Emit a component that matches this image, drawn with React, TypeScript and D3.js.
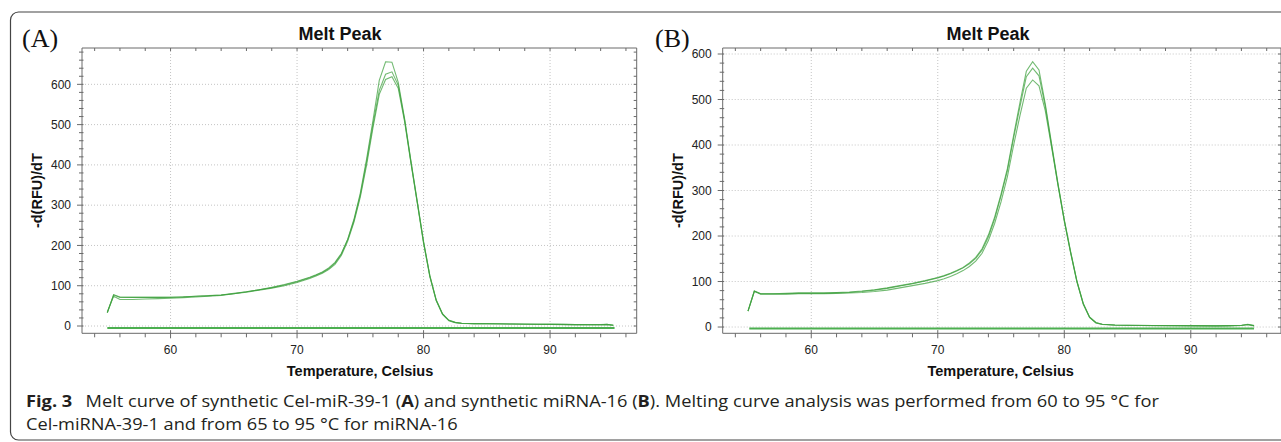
import React, { useLayoutEffect, useRef, useState } from 'react';
import * as d3 from 'd3';

// ---------- data ----------
const temps = [55, 55.5, 56, 57, 58, 59, 60, 61, 62, 63, 64, 65, 66, 67, 68, 69, 70,
  70.5, 71, 71.5, 72, 72.5, 73, 73.5, 74, 74.5, 75, 75.5, 76, 76.5, 77, 77.5, 78, 78.5, 79, 79.5, 80, 80.5, 81, 81.5, 82, 82.5, 83,
  84, 85, 86, 87, 88, 89, 90, 91, 92, 93, 94, 94.5, 95];

const meltA1 = [33, 78, 72, 71, 71, 71, 71, 72, 74, 75, 77, 80, 85, 90, 95, 102, 110,
  115, 120, 126, 133, 142, 156, 178, 215, 265, 330, 415, 510, 610, 656, 655, 605, 515, 410, 310, 210, 125, 65, 30, 14, 9, 7,
  6, 6, 5.5, 5, 5, 4.5, 4, 4, 3.5, 3.5, 3.5, 4, 2];
const meltA2 = [33, 77, 71, 71, 71, 71, 71.5, 72.5, 74, 75.5, 77, 81, 85, 90, 96, 103, 111,
  116, 121, 127, 134, 144, 158, 180, 214, 262, 325, 408, 500, 585, 625, 631, 598, 512, 408, 308, 208, 124, 64, 30, 14, 9, 7,
  6, 5.5, 5.5, 5, 4.5, 4.5, 4, 4, 3.5, 3, 3, 4, 2];
const meltA3 = [35, 74, 66, 66, 67, 68, 69, 70.5, 72, 74, 76, 80, 84, 89, 94, 100, 108,
  113, 118, 124, 131, 140, 153, 175, 210, 258, 320, 400, 492, 575, 612, 619, 590, 508, 405, 306, 206, 122, 63, 29, 13, 8, 6.5,
  5.5, 5.5, 5, 5, 4.5, 4, 4, 3.5, 3.5, 3, 3, 3.5, 2];

const meltB1 = [35, 79, 73, 73, 74, 75, 75, 75, 76, 77, 79, 82, 86, 91, 96, 102, 109,
  113, 118, 124, 131, 141, 153, 172, 202, 242, 292, 348, 422, 494, 562, 583, 565, 490, 402, 316, 236, 166, 101, 52, 22, 10, 6,
  4.5, 4, 4, 3.5, 3.5, 3, 3, 3, 2.5, 3, 4, 6, 3];
const meltB2 = [35, 79, 73, 73, 73, 74, 74, 74, 75, 76, 78, 81, 85, 90, 95, 101, 108,
  112, 117, 123, 130, 139, 151, 169, 198, 238, 288, 343, 416, 485, 550, 569, 552, 485, 398, 313, 234, 164, 100, 51, 21, 9.5, 6,
  4.5, 4, 3.5, 3.5, 3, 3, 3, 2.5, 2.5, 3, 3.5, 5.5, 3];
const meltB3 = [35, 78, 72, 72, 72, 73, 73, 73, 74, 75, 76, 78, 81, 86, 91, 96, 102,
  106, 111, 117, 124, 133, 145, 162, 190, 228, 275, 330, 400, 465, 525, 543, 530, 475, 395, 312, 233, 163, 99, 50, 21, 9, 5.5,
  4, 3.5, 3.5, 3, 3, 3, 2.5, 2.5, 2.5, 2.5, 3.5, 5, 2.5];

const ntcTempsA = [55, 95.1];
const ntcA = [-5, -5];
const ntcTempsB = [55.1, 95];
const ntcB = [-3, -3];

const xMajorTicks = [60, 70, 80, 90];
const yMajorTicksA = [0, 100, 200, 300, 400, 500, 600];
const yMajorTicksB = [0, 100, 200, 300, 400, 500, 600];

const chartTitle = 'Melt Peak';
const xTitle = 'Temperature, Celsius';
const yTitle = '-d(RFU)/dT';

const FONT = '"Liberation Sans", Arial, sans-serif';
const CAPFONT = '"Open Sans", "Noto Sans", sans-serif';
const AXIS = '#6a6a6a';
const GRID = '#c4c4c4';
const CURVE = '#3c9f3c';
const NTC = '#4caf50';

type PanelProps = {
  label: string;
  left: number; right: number; top: number; bottom: number;
  xDomain: [number, number]; yDomain: [number, number];
  yTicks: number[];
  series: number[][];
  ntcT: number[]; ntcV: number[];
  titleX: number; labelX: number;
};

function Panel(p: PanelProps) {
  const x = d3.scaleLinear().domain(p.xDomain).range([p.left, p.right]);
  const y = d3.scaleLinear().domain(p.yDomain).range([p.bottom, p.top]);
  const minorX = d3.range(54, Math.floor(p.xDomain[1]) + 1, 2).filter(v => v <= p.xDomain[1]);
  const minorY = d3.range(0, p.yDomain[1], 20);
  const line = d3.line<[number, number]>().x(d => x(d[0])).y(d => y(d[1]));
  const mk = (vals: number[], ts: number[]) => line(ts.map((t, i) => [t, vals[i]] as [number, number])) || '';
  const midY = (p.top + p.bottom) / 2;
  return (
    <g>
      <text x={p.labelX} y={47} fontFamily='"Liberation Serif", "Times New Roman", serif' fontSize={26} fill="#111">{p.label}</text>
      <text x={p.titleX} y={40} textAnchor="middle" fontFamily={FONT} fontWeight={700} fontSize={18} fill="#111">{chartTitle}</text>
      {xMajorTicks.map(v => (
        <line key={'gx' + v} x1={x(v)} x2={x(v)} y1={p.top} y2={p.bottom} stroke={GRID} strokeDasharray="1,2" />
      ))}
      {p.yTicks.map(v => (
        <line key={'gy' + v} x1={p.left} x2={p.right} y1={y(v)} y2={y(v)} stroke={GRID} strokeDasharray="1,2" />
      ))}
      <path d={mk(p.ntcV, p.ntcT)} fill="none" stroke={NTC} strokeWidth={2} />
      {p.series.map((s, i) => (
        <path key={'s' + i} d={mk(s, temps)} fill="none" stroke={CURVE} strokeWidth={1.1} strokeOpacity={0.72} />
      ))}
      <line x1={p.left} x2={p.left} y1={p.top} y2={p.bottom} stroke={AXIS} />
      <line x1={p.left} x2={p.right} y1={p.bottom} y2={p.bottom} stroke={AXIS} />
      <line x1={p.left} x2={p.right} y1={p.top} y2={p.top} stroke={AXIS} />
      <line x1={p.right} x2={p.right} y1={p.top} y2={p.bottom} stroke={AXIS} />
      {minorX.map(v => (
        <g key={'tx' + v}>
          <line x1={x(v)} x2={x(v)} y1={xMajorTicks.includes(v) ? p.bottom - 3 : p.bottom} y2={p.bottom + (xMajorTicks.includes(v) ? 5 : 4)} stroke={AXIS} />
          <line x1={x(v)} x2={x(v)} y1={p.top} y2={p.top + 3} stroke={AXIS} />
        </g>
      ))}
      {minorY.map(v => (
        <g key={'ty' + v}>
          <line x1={p.left - (p.yTicks.includes(v) ? 5 : 3)} x2={p.left + 1.5} y1={y(v)} y2={y(v)} stroke={AXIS} />
          <line x1={p.right - 3} x2={p.right} y1={y(v)} y2={y(v)} stroke={AXIS} />
        </g>
      ))}
      {xMajorTicks.map(v => (
        <text key={'lx' + v} x={x(v)} y={p.bottom + 21} textAnchor="middle" fontFamily={FONT} fontSize={12} fill="#222">{v}</text>
      ))}
      {p.yTicks.map(v => (
        <text key={'ly' + v} x={p.left - 11} y={y(v) + 4.3} textAnchor="end" fontFamily={FONT} fontSize={12} fill="#222">{v}</text>
      ))}
      <text x={p.left + 278} y={p.bottom + 42.5} textAnchor="middle" fontFamily={FONT} fontWeight={700} fontSize={14.5} fill="#111">{xTitle}</text>
      <text transform={`translate(${p.left - 40},${midY}) rotate(-90)`} textAnchor="middle" fontFamily={FONT} fontWeight={700} fontSize={14.5} fill="#111">{yTitle}</text>
    </g>
  );
}

function FitText({ x, y, width, children }: { x: number; y: number; width: number; children: React.ReactNode }) {
  const ref = useRef<SVGTextElement>(null);
  const [sx, setSx] = useState(1);
  useLayoutEffect(() => {
    if (ref.current) {
      const w = ref.current.getBBox().width;
      if (w > 0) setSx(width / w);
    }
  }, [width]);
  return (
    <g transform={`translate(${x},${y}) scale(${sx},1)`}>
      <text ref={ref} x={0} y={0} fontFamily={CAPFONT} fontSize={16.5} fill="#231f20">{children}</text>
    </g>
  );
}

export default function App() {
  return (
    <svg width={1281} height={442} style={{ position: 'absolute', left: 0, top: 0, background: '#fff' }}>
      <rect x={0} y={0} width={1281} height={442} fill="#fff" />
      <rect x={10.5} y={12} width={1300} height={428} rx={8} ry={8} fill="none" stroke="#444" strokeWidth={1.2} />
      <Panel label="(A)" left={82} right={636.7} top={48} bottom={333.3}
        xDomain={[53, 96.85]} yDomain={[-18.1, 690.2]} yTicks={yMajorTicksA}
        series={[meltA1, meltA2, meltA3]} ntcT={ntcTempsA} ntcV={ntcA} titleX={340} labelX={22} />
      <Panel label="(B)" left={722.7} right={1281} top={48} bottom={333.3}
        xDomain={[53, 97.13]} yDomain={[-13.8, 613.2]} yTicks={yMajorTicksB}
        series={[meltB1, meltB2, meltB3]} ntcT={ntcTempsB} ntcV={ntcB} titleX={988} labelX={655} />
      <FitText x={26} y={407} width={1134}>
        <tspan fontWeight={700}>Fig. 3</tspan>
        <tspan dx={12}>Melt curve of synthetic Cel-miR-39-1 (</tspan>
        <tspan fontWeight={700}>A</tspan>
        <tspan>) and synthetic miRNA-16 (</tspan>
        <tspan fontWeight={700}>B</tspan>
        <tspan>). Melting curve analysis was performed from 60 to 95 °C for</tspan>
      </FitText>
      <FitText x={26} y={430} width={432}>
        Cel-miRNA-39-1 and from 65 to 95 °C for miRNA-16
      </FitText>
    </svg>
  );
}
